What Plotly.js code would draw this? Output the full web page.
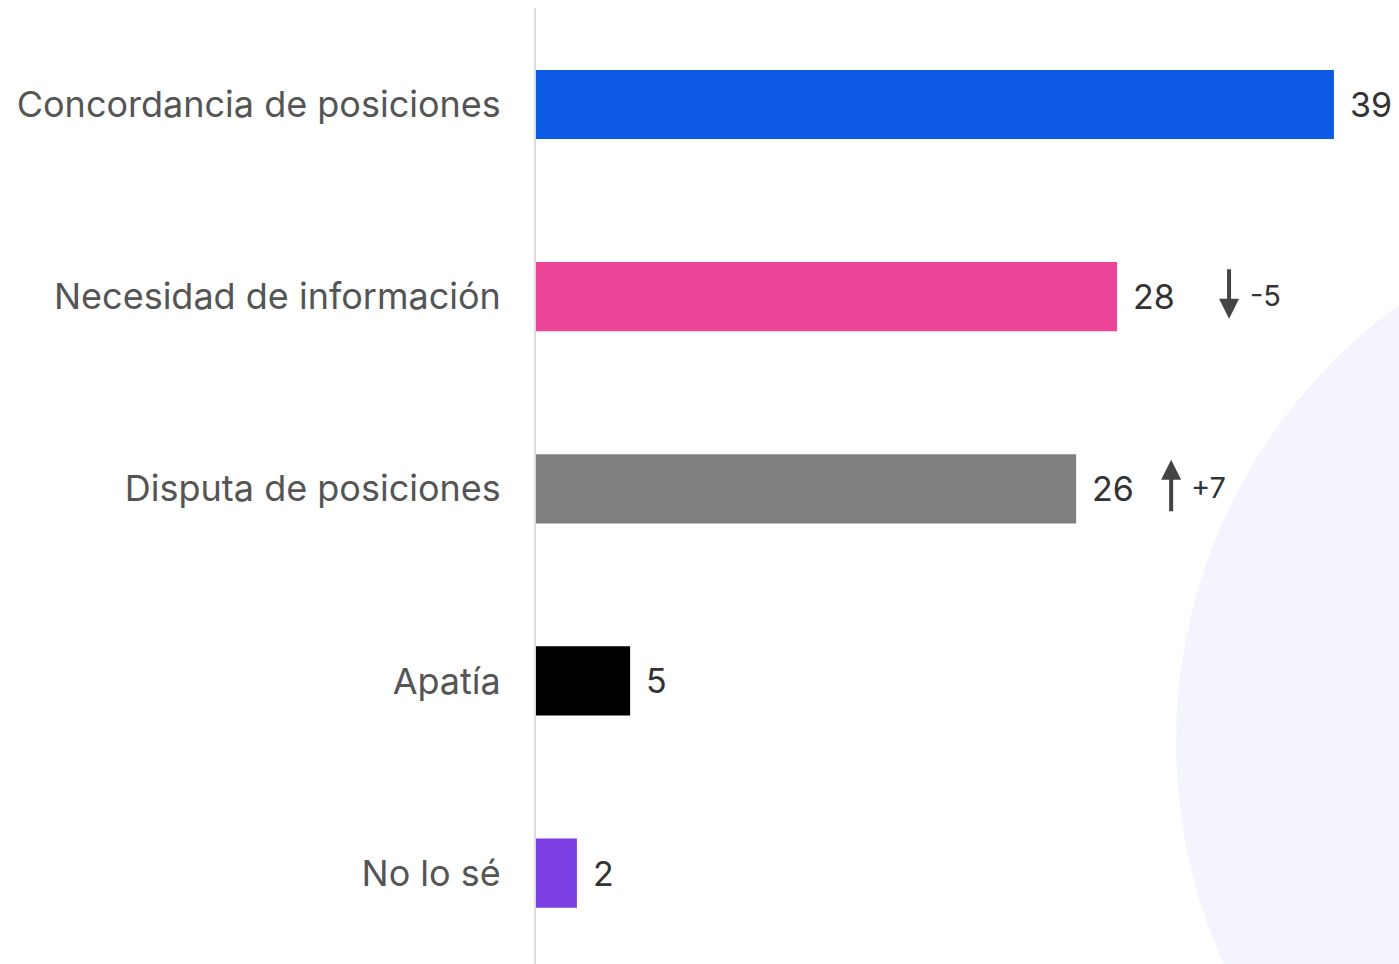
<!DOCTYPE html>
<html>
<head>
<meta charset="utf-8">
<script src="https://cdn.plot.ly/plotly-3.0.1.min.js"></script>
<style>
  html, body { margin: 0; padding: 0; background: #ffffff; }
  #chart { width: 1399px; height: 964px; }
</style>
</head>
<body>
<div id="chart"></div>
<script>
// ---- data ----
const categories = ["Concordancia de posiciones", "Necesidad de información", "Disputa de posiciones", "Apatía", "No lo sé"];
const values = [39.0, 28.4, 26.4, 4.6, 2.0];
const valueLabels = ["39", "28", "26", "5", "2"];
const changes = [null, -5, 7, null, null];
const changeLabels = ["", "-5", "+7", "", ""];

// ---- styles ----
const barColors = ["#0d5ae5", "#ec4497", "#808080", "#000000", "#7b3fe4"];
const arrowShift = { 1: 112, 2: 95 };
const changeTextShift = { 1: 131, 2: 113 };
const fontFamily = "Inter, 'Open Sans', sans-serif";

const trace = {
  type: "bar",
  orientation: "h",
  y: categories,
  x: values,
  marker: { color: barColors },
  width: 0.36,
  hoverinfo: "skip"
};

const annotations = [];
categories.forEach((c, i) => {
  annotations.push({
    x: values[i], y: c, xref: "x", yref: "y",
    text: valueLabels[i], showarrow: false,
    xanchor: "left", yanchor: "middle", xshift: 14, yshift: 0,
    font: { family: fontFamily, size: 34, color: "#333333" }
  });
  if (changes[i] !== null) {
    const up = changes[i] > 0;
    annotations.push({
      x: values[i], y: c, xref: "x", yref: "y",
      axref: "pixel", ayref: "pixel",
      ax: 0, ay: up ? 53 : -51,
      xshift: arrowShift[i], yshift: up ? 29 : -22,
      text: "", showarrow: true,
      arrowhead: 2, arrowsize: 1.0, arrowwidth: 4, arrowcolor: "#444444"
    });
    annotations.push({
      x: values[i], y: c, xref: "x", yref: "y",
      text: changeLabels[i], showarrow: false,
      xanchor: "left", yanchor: "middle", xshift: changeTextShift[i], yshift: 1,
      font: { family: fontFamily, size: 29, color: "#333333" }
    });
  }
});

const layout = {
  width: 1399, height: 964,
  margin: { l: 536, r: 0, t: 8, b: 0, pad: 0 },
  paper_bgcolor: "#ffffff",
  plot_bgcolor: "rgba(0,0,0,0)",
  showlegend: false,
  bargap: 0.64,
  xaxis: {
    range: [0, 42.18],
    showgrid: false, zeroline: false, showline: false,
    showticklabels: false, ticks: ""
  },
  yaxis: {
    type: "category",
    range: [4.473, -0.502],
    showgrid: false, zeroline: false,
    showline: true, linecolor: "#dcdcdc", linewidth: 2,
    ticks: "outside", ticklen: 26, tickcolor: "rgba(0,0,0,0)",
    tickfont: { family: fontFamily, size: 36, color: "#555555" }
  },
  shapes: [{
    type: "circle", layer: "below",
    xref: "paper", yref: "paper",
    xsizemode: "pixel", ysizemode: "pixel",
    xanchor: 1, yanchor: 0,
    x0: 1176 - 1399, x1: 1176 - 1399 + 1080,
    y0: (964 - 742) - 540, y1: (964 - 742) + 540,
    fillcolor: "#f3f4fd", line: { width: 0 }
  }],
  annotations: annotations
};

Plotly.newPlot("chart", [trace], layout, { displayModeBar: false, staticPlot: true });
</script>
</body>
</html>
